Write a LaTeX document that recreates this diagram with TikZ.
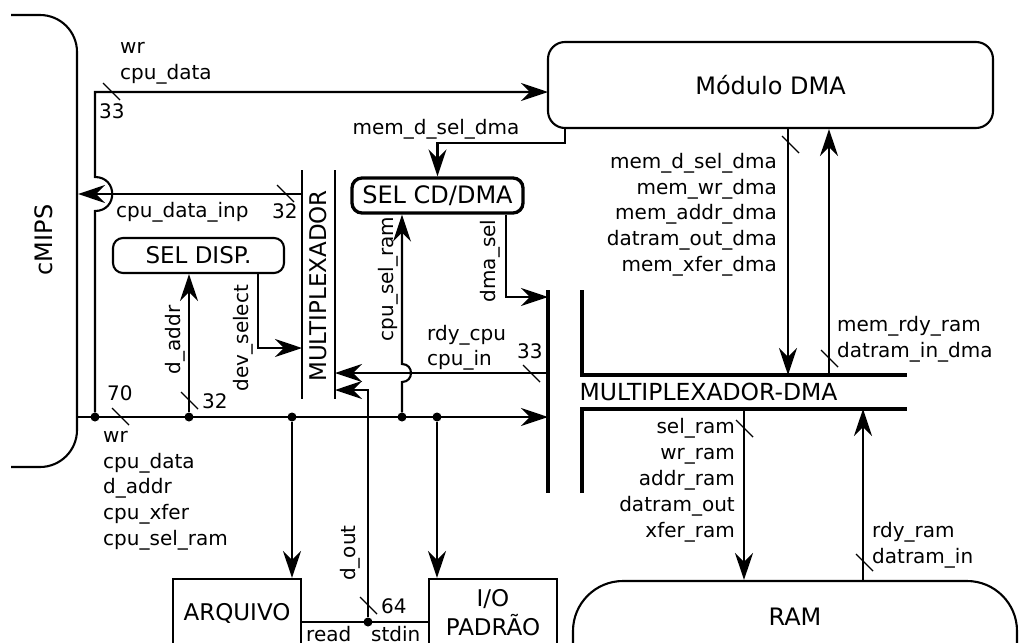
\documentclass[tikz,border=0pt]{standalone}
\usepackage{fontspec}
\setmainfont{DejaVu Sans}
\usetikzlibrary{arrows.meta}
\usetikzlibrary{positioning,shapes,calc}

\begin{document}
\begin{tikzpicture}[x=1pt,y=-1pt]

		\tikzset{line/.style={draw,line width=2.1pt}}
		\tikzset{arrow/.style={line,-{Stealth[length=27pt,width=18pt,inset=9pt]}}}
		\tikzset{bar/.style={draw,line width=3.8pt}}
		\tikzset{tick/.style={draw,line width=1.4pt}}
		\tikzset{box/.style={draw,line width=2.1pt,rounded corners=10pt,inner sep=0pt}}
		\tikzset{dot/.style={shape=circle,fill,inner sep=0pt,minimum size=9pt}}
		\tikzset{lbl/.style={inner sep=0pt,font=\fontsize{20}{24}\selectfont}}
		\tikzset{big/.style={inner sep=0pt,font=\fontsize{24}{29}\selectfont}}
		\tikzset{mid/.style={inner sep=0pt,font=\fontsize{23}{29}\selectfont}}

		\useasboundingbox (0,0) rectangle (1021,643);
		\clip (11,0) rectangle (1021,643);

		\node[box,rounded corners=37pt,minimum width=200pt,minimum height=452pt] (cmips) at (-23,241) {};
		\node[big,rotate=90] (cmipstxt) at (44,240) {cMIPS};
		\node[box,big,rounded corners=17pt,minimum width=445pt,minimum height=86pt] (dma) at (770.5,85) {Módulo DMA};
		\node[box,big,line width=3.3pt,minimum width=171pt,minimum height=35pt] (selcd) at (437.5,195.5) {SEL CD/DMA};
		\node[box,mid,minimum width=171pt,minimum height=35pt] (seldisp) at (198.5,255.5) {SEL DISP.};
		\node[line,mid,minimum width=128pt,minimum height=68pt] (arq) at (237,613) {ARQUIVO};
		\node[line,mid,align=center,minimum width=128pt,minimum height=68pt] (io) at (493,613) {I/O\\PADRÃO};
		\node[box,rounded corners=50pt,minimum width=444pt,minimum height=160pt] (ram) at (795,661) {};
		\node[big] (ramtxt) at (795,617) {RAM};

		% multiplexador
		\coordinate (mlt) at (302,170);
		\coordinate (mlb) at (302,399);
		\coordinate (mrt) at (335,170);
		\coordinate (mrb) at (335,399);
		\path[line] (mlt) -- (mlb);
		\path[line] (mrt) -- (mrb);
		\node[mid,rotate=90] (muxtxt) at (318,286) {MULTIPLEXADOR};

		\coordinate (bt) at (548,290);
		\coordinate (bb) at (548,493);
		\path[bar] (bt) -- (bb);
		\coordinate (mdtl) at (582,290);
		\coordinate (mdtr) at (907,375);
		\coordinate (mdbl) at (582,493);
		\coordinate (mdbr) at (907,409);
		\path[bar] (mdtl) |- (mdtr);
		\path[bar] (mdbl) |- (mdbr);
		\node[mid,font=\fontsize{23.5}{28}\selectfont,anchor=base west] (muxdmatxt) at (579.5,400) {MULTIPLEXADOR-DMA};

		\node[dot] (d1) at (95,417) {};
		\node[dot] (d2) at (189,417) {};
		\node[dot] (d3) at (292,417) {};
		\node[dot] (d4) at (402,417) {};
		\node[dot] (d5) at (437,417) {};
		\node[dot] (d6) at (368,622) {};

		\coordinate (bus) at (548,417);
		\coordinate (inp) at (302,194);
		\coordinate (devin) at (302,348);
		\coordinate (cpuin) at (548,373);
		\coordinate (doutin) at (335,390);
		\coordinate (dmasel) at (548,297);
		\coordinate (dmain) at (548,92);

		\path[arrow] (cmips.east |- d1) -- (bus);
		\path[arrow] (d1) -- (95,211) .. controls (118,211) and (118,177) .. (95,177) |- (dmain);
		\path[arrow] (inp) -- (cmips.east |- inp);
		\path[arrow] (d2) -- (seldisp.south -| d2);
		\path[arrow] (seldisp.south -| 258,0) |- (devin);
		\path[arrow] (cpuin) -- (mrt |- cpuin);
		\path[arrow] (d6) |- (doutin);
		\path[arrow] (d4) -- (402,382) .. controls (414,382) and (414,364) .. (402,364) -- (selcd.south -| d4);
		\path[arrow] (dma.south -| 565,0) |- (selcd.north |- 0,143) -- (selcd.north);
		\path[arrow] (selcd.south -| 506,0) |- (dmasel);
		\path[arrow] (d3) -- (arq.north -| d3);
		\path[arrow] (d5) -- (io.north -| d5);
		\path[line] (arq.east |- d6) -- (io.west |- d6);
		\path[arrow] (dma.south -| 788,0) -- (mdtr -| 788,0);
		\path[arrow] (mdtr -| 829,0) -- (dma.south -| 829,0);
		\path[arrow] (mdbr -| 744,0) -- (ram.north -| 744,0);
		\path[arrow] (ram.north -| 863,0) -- (mdbr -| 863,0);

		\path[tick] (103,83) -- ++(17,17);
		\path[tick] (277,185) -- ++(17,17);
		\path[tick] (112,408) -- ++(17,17);
		\path[tick] (181,392) -- ++(17,17);
		\path[tick] (523,365) -- ++(17,17);
		\path[tick] (782,136) -- ++(17,17);
		\path[tick] (821,350) -- ++(17,17);
		\path[tick] (736,420) -- ++(17,17);
		\path[tick] (856,554) -- ++(17,17);
		\path[tick] (360,597) -- ++(17,17);

		% rotulos
		\node[lbl,anchor=base west] (t1) at (120,53) {wr};
		\node[lbl,anchor=base west] (t2) at (120,79) {cpu\_data};
		\node[lbl,anchor=base west] (t3) at (99,118) {33};
		\node[lbl,anchor=base west] (t4) at (116,217) {cpu\_data\_inp};
		\node[lbl,anchor=base west] (t5) at (272,218) {32};
		\node[lbl,anchor=base west] (t6) at (107,400) {70};
		\node[lbl,anchor=base west] (t7) at (202,408) {32};
		\node[lbl,anchor=base west] (t8) at (103,442) {wr};
		\node[lbl,anchor=base west] (t9) at (103,468) {cpu\_data};
		\node[lbl,anchor=base west] (t10) at (103,493) {d\_addr};
		\node[lbl,anchor=base west] (t11) at (103,519) {cpu\_xfer};
		\node[lbl,anchor=base west] (t12) at (103,545) {cpu\_sel\_ram};
		\node[lbl,rotate=90] (t13) at (175,340) {d\_addr};
		\node[lbl,rotate=90] (t14) at (243,338) {dev\_select};
		\node[lbl,rotate=90] (t15) at (388,279) {cpu\_sel\_ram};
		\node[lbl,rotate=90] (t16) at (490,261) {dma\_sel};
		\node[lbl,rotate=90] (t17) at (350,553) {d\_out};
		\node[lbl,anchor=base west] (t18) at (427,340) {rdy\_cpu};
		\node[lbl,anchor=base west] (t19) at (427,365) {cpu\_in};
		\node[lbl,anchor=base west] (t20) at (517,358) {33};
		\node[lbl,anchor=base] (t21) at (436,134) {mem\_d\_sel\_dma};

		\node[lbl,anchor=base east] (t22) at (777,168) {mem\_d\_sel\_dma};
		\node[lbl,anchor=base east] (t23) at (777,194) {mem\_wr\_dma};
		\node[lbl,anchor=base east] (t24) at (777,219) {mem\_addr\_dma};
		\node[lbl,anchor=base east] (t25) at (777,245) {datram\_out\_dma};
		\node[lbl,anchor=base east] (t26) at (777,271) {mem\_xfer\_dma};
		\node[lbl,anchor=base west] (t27) at (837,331) {mem\_rdy\_ram};
		\node[lbl,anchor=base west] (t28) at (837,357) {datram\_in\_dma};

		\node[lbl,anchor=base east] (t29) at (735,433) {sel\_ram};
		\node[lbl,anchor=base east] (t30) at (735,459) {wr\_ram};
		\node[lbl,anchor=base east] (t31) at (735,485) {addr\_ram};
		\node[lbl,anchor=base east] (t32) at (735,511) {datram\_out};
		\node[lbl,anchor=base east] (t33) at (735,537) {xfer\_ram};
		\node[lbl,anchor=base west] (t34) at (872,537) {rdy\_ram};
		\node[lbl,anchor=base west] (t35) at (872,563) {datram\_in};

		\node[lbl,anchor=base west] (t36) at (381,613) {64};
		\node[lbl,anchor=base west] (t37) at (306,641) {read};
		\node[lbl,anchor=base west] (t38) at (371,641) {stdin};

	\end{tikzpicture}
\end{document}
